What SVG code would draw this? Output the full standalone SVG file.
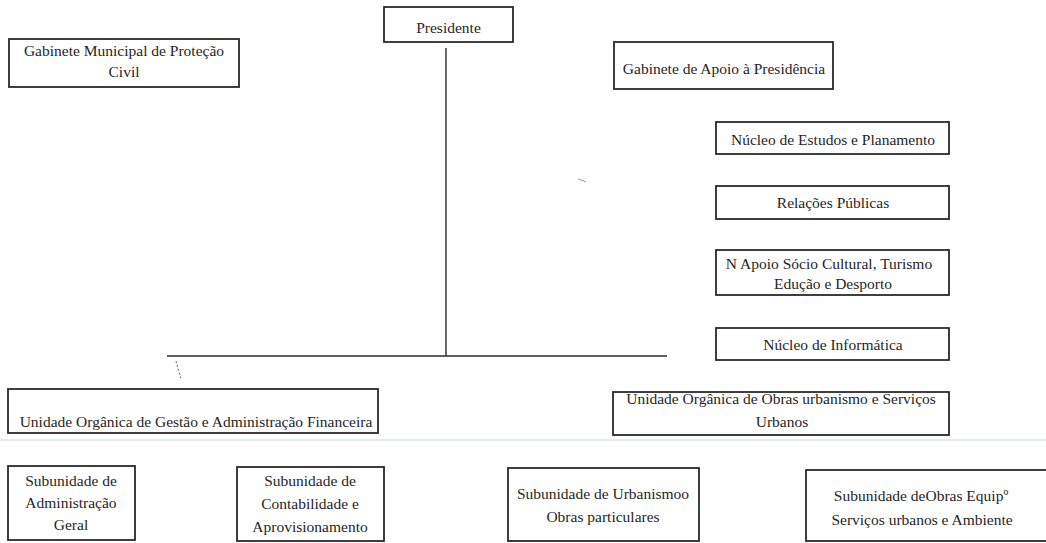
<svg xmlns="http://www.w3.org/2000/svg" width="1046" height="543" viewBox="0 0 1046 543">
  <style>
    .box { fill: #ffffff; stroke: #2a2a2a; stroke-width: 1.8; }
    .t { font-family: "Liberation Serif", "DejaVu Serif", serif; font-size: 15.5px; fill: #262626; text-anchor: middle; }
    .ln { stroke: #2a2a2a; stroke-width: 1.4; fill: none; }
  </style>
  <rect x="0" y="0" width="1046" height="543" fill="#ffffff"/>
  <line x1="0" y1="440" x2="1046" y2="440" stroke="#dbe6f2" stroke-width="1.5"/>
  <path d="M578,179 q4,1 8,3" stroke="#9a9a9a" stroke-width="1" fill="none"/>

  <g id="connectors">
    <line class="ln" x1="446" y1="48" x2="446" y2="356"/>
    <line class="ln" x1="167" y1="356" x2="667" y2="356"/>
    <line x1="176" y1="361" x2="181" y2="379" stroke="#666" stroke-width="1" stroke-dasharray="2 2"/>
  </g>

  <g id="presidente">
    <rect class="box" x="384" y="7" width="129" height="35"/>
    <text class="t" x="448.5" y="33">Presidente</text>
  </g>
  <g id="gabinete-protecao-civil">
    <rect class="box" x="9" y="39" width="230" height="48"/>
    <text class="t" x="124" y="56">Gabinete Municipal de Proteção</text>
    <text class="t" x="124" y="77">Civil</text>
  </g>
  <g id="gabinete-apoio">
    <rect class="box" x="614" y="42" width="219" height="47"/>
    <text class="t" x="724" y="74">Gabinete de Apoio à Presidência</text>
  </g>
  <g id="nucleo-estudos">
    <rect class="box" x="716" y="122" width="233" height="32"/>
    <text class="t" x="833" y="145">Núcleo de Estudos e Planamento</text>
  </g>
  <g id="relacoes-publicas">
    <rect class="box" x="716" y="186" width="233" height="33"/>
    <text class="t" x="833" y="208">Relações Públicas</text>
  </g>
  <g id="apoio-socio-cultural">
    <rect class="box" x="716" y="250" width="233" height="45"/>
    <text class="t" x="829" y="269">N Apoio Sócio Cultural, Turismo</text>
    <text class="t" x="833" y="289">Edução e Desporto</text>
  </g>
  <g id="nucleo-informatica">
    <rect class="box" x="716" y="328" width="233" height="32"/>
    <text class="t" x="833" y="350">Núcleo de Informática</text>
  </g>
  <g id="unidade-gestao">
    <rect class="box" x="8" y="389" width="370" height="44"/>
    <text class="t" x="196" y="427">Unidade Orgânica de Gestão e Administração Financeira</text>
  </g>
  <g id="unidade-obras">
    <rect class="box" x="613" y="392" width="336" height="43"/>
    <text class="t" x="781" y="404">Unidade Orgânica de Obras urbanismo e Serviços</text>
    <text class="t" x="782" y="427">Urbanos</text>
  </g>
  <g id="sub-administracao">
    <rect class="box" x="8" y="466" width="127" height="74"/>
    <text class="t" x="71" y="486">Subunidade de</text>
    <text class="t" x="71" y="508">Administração</text>
    <text class="t" x="71" y="530">Geral</text>
  </g>
  <g id="sub-contabilidade">
    <rect class="box" x="237" y="467" width="147" height="74"/>
    <text class="t" x="310" y="486">Subunidade de</text>
    <text class="t" x="310" y="509">Contabilidade e</text>
    <text class="t" x="310" y="532">Aprovisionamento</text>
  </g>
  <g id="sub-urbanismo">
    <rect class="box" x="508" y="468" width="191" height="73"/>
    <text class="t" x="603" y="499">Subunidade de Urbanismoo</text>
    <text class="t" x="603" y="522">Obras particulares</text>
  </g>
  <g id="sub-obras-equip">
    <rect class="box" x="806" y="470" width="250" height="71"/>
    <text class="t" x="921" y="501">Subunidade deObras Equipº</text>
    <text class="t" x="922" y="525">Serviços urbanos e Ambiente</text>
  </g>
</svg>
